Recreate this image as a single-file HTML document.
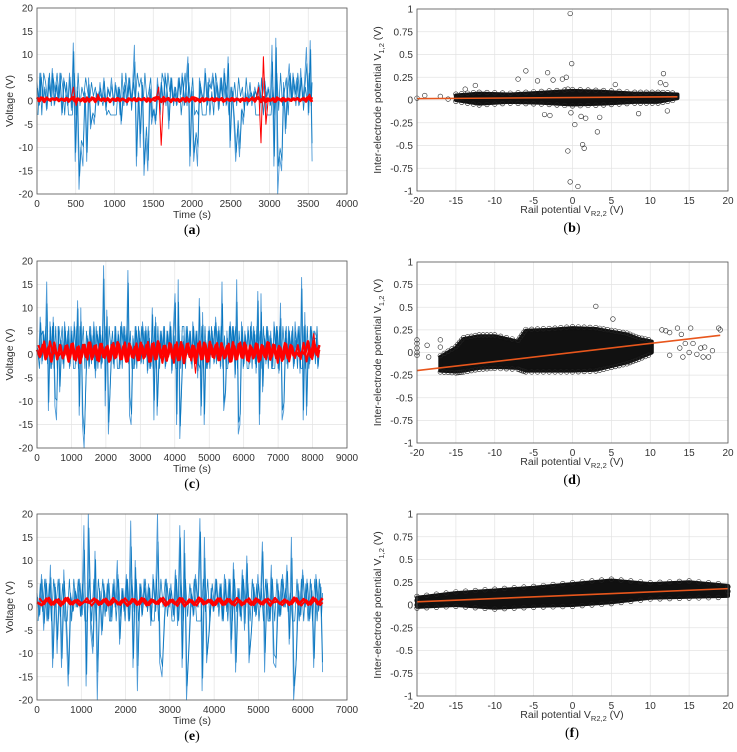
<!DOCTYPE html>
<html><head><meta charset="utf-8"><style>
body{margin:0;background:#fff;width:737px;height:752px;overflow:hidden}
svg{display:block;font-family:"Liberation Sans",sans-serif}
.cap{font-family:"Liberation Serif",serif;font-size:14px}
</style></head><body>
<svg id="fig" width="737" height="752" viewBox="0 0 737 752"></svg>
<script>
// ---- data ----
const tsA = [4,-1,6,0,3,-2,5,1,7,-1,4,0,6,-3,5,2,-1,6,-2,12.5,-13,3,-19,-10,-14,2,-13,5,-6,-3,-5,2,-1,4,0,5,-2,3,1,5,-1,4,0,3,-5,2,4,-1,5,0,3,12,-14,2,-10,4,-16,-8,-15,3,-5,-2,-5,5,0,4,-1,6,2,-6,5,0,3,-1,5,2,6,-1,4,9.5,-14,3,-13,-8,-14,5,2,0,7,-1,5,3,6,0,4,-2,5,1,7,-1,9.5,-10,3,-4,-13,-6,-12,-2,-5,2,-1,1,2,0,3,1,4,0,2,5,1,3,-1,12,-14,13.5,-20,-12,-15,4,-7,3,8,0,6,2,5,-1,7,0,4,11.5,-3,13,-13];
const tsAEnd = 3550;
const redA = [0.8,0,0.6,-0.2,0.7,0.2,0.5,0.3,0.6,0,0.5,0.1,0.6,-0.1,0.5,3,-1,0.5,0,0.6,-0.1,0.5,0.2,0.6,-0.3,1.5,0.2,0.5,0,0.6,-0.2,0.5,0.1,0.6,0,0.5,0.2,-0.3,0.5,0.1,0.6,0,0.5,0.2,0.6,-0.1,0.5,0.2,0.6,0.8,3,-9.5,1,0.2,0.6,-0.2,0.5,0.1,0.4,0,0.6,-0.1,0.5,0.2,0.6,0,0.4,-0.2,0.6,0.1,0.5,0.2,0.6,0,0.5,0.2,0.6,0,0.5,0.1,0.6,0,0.5,0.2,0.4,0.1,0.6,0,0.5,0.2,0.6,3,-9,9.5,-5,0.5,0.1,0.6,-0.1,0.5,0.2,0.6,0,0.5,0.1,0.5,0.2,0.6,0,0.5,0.2,0.7,1.5,-0.2];
const tsC = [2,-1,8,-2,5,0,15.5,-12,7,-3,8,-11,-14,6,-8,3,-2,7,0,5,-3,6,1,7,-2,11.5,-13,10,-15,-20,-7,4,-3,6,0,7,-5,5,1,6,-2,19,-11,9.5,-17,-8,3,-2,6,0,5,-3,7,2,6,-1,18,-13,-15,4,-3,6,0,5,-2,7,1,6,-4,5,-3,10,-14,8,-13,-2,5,0,6,-3,5,1,7,-4,6,13,-15,16,-18,-7,4,-2,6,0,5,-2,7,1,5,-5,12,-13,9,-15,3,-3,6,0,5,-2,8,1,6,-3,15.5,-12,-9,5,-2,7,0,6,-5,16,-17,-15,7,-3,5,1,6,-2,7,0,5,-4,13.5,-15,13,-8,4,-2,6,0,5,-3,7,1,6,-4,11,-14,-12,5,-2,6,0,5,-3,7,2,6,-4,16.5,-14,9,-13,3,-2,6,0,5,4,-3,1];
const tsCEnd = 8200;
const redC = [1,-0.5,2,-1,1.5,-1.5,2.5,-1,2,-0.8,1.8,-1.5,2.2,-1,1.5,-1.8,2,-0.5,2.5,-1,1.8,-1.2,2.2,-0.5,1.5,-1.5,2,-0.8,2.6,-1,1.8,-1.5,2.3,-0.5,1.6,-1.2,2.5,-0.8,2,-1.5,2.2,-1,2.8,-0.6,1.8,-1.3,2.4,-0.8,2,-1.2,2.6,-1.8,2.2,-0.5,1.9,-4,2.3,-1,2.5,-1.5,2.7,-0.5,2,-1.2,2.4,-0.8,1.8,-1.5,2.6,-1,2.2,-0.6,2.5,-1.2,1.9,-0.8,2.3,-1.5,2,-0.5,2.6,-1.1,2.1,-0.7,1.8,-1.3,2.4,-0.8,2,-0.2,0.5,-0.3,0.6,0,3,-0.5,4.5,0,2];
const tsE = [3,-2,7,-5,6,-3,9,-13,5,-10,6,-13,8,-4,-17,3,-1,4,0,6,-2,17.5,-17,20,-5,-10,12,-20,4,-6,5,-1,6,-3,5,0,10,-8,4,-1,7,-3,18.5,-13,10,-18,5,-2,6,0,5,-4,7,-1,20,-12,-15,-3,6,0,5,-2,8,-4,17.5,-13,16.5,-20,-9,4,-2,7,0,19,-18,15,-12,-6,4,-1,6,0,5,-3,7,-1,6,-10,9.5,-14,4,-2,8,-5,11,-12,-6,5,-2,7,0,14,-14,6,-3,9,-12,-13,5,-2,7,0,9,-8,15,-20,-13,5,-2,8,0,6,-3,5,-13,7,-1,5,-14];
const tsEEnd = 6450;
const redE = [1,0.4,1.8,0.5,1.5,0.3,1.9,0.6,1.4,0.4,1.2,0.9,1.8,0.5,1.6,0.4,1.9,0.6,1.5,0.3,1.7,0.5,1.9,0.4,1.6,0.7,1.8,0.3,1.5,0.6,1.9,0.2,1.6,0.5,2,0.6,1.5,0.4,1.8,0.5,1.7,0.6,1.9,0.4,1.5,0.5,1.8,0.6,1.6,0.3,1.9,0.7,1.6,0.5,2,0.6,1.7,0.5,2,0.6,1.9];
// scatter bands: x, upper, lower
const bandBX = [-15,-12,-8,-4,0,4,8,11,13.5];
const bandBUp = [0.05,0.07,0.06,0.08,0.1,0.09,0.07,0.07,0.06];
const bandBLo = [0,-0.04,-0.02,-0.03,-0.05,-0.04,-0.02,-0.02,0.02];
const outBX = [-20,-19,-17,-16,-13.8,-12.5,-7,-6,-4.5,-3.2,-2.5,-1.3,-0.8,-0.3,-0.1,-0.3,-0.6,-0.2,0.7,1.3,1.5,1.7,3.2,3.5,0.3,-3.6,-2.9,1.1,5.5,8.5,11.3,11.7,12,12.2,-0.6];
const outBY = [0.02,0.05,0.04,0.01,0.12,0.16,0.23,0.32,0.21,0.3,0.22,0.23,0.25,0.95,0.4,-0.9,-0.56,-0.14,-0.95,-0.49,-0.53,-0.2,-0.35,-0.19,-0.27,-0.16,-0.17,-0.18,0.17,-0.15,0.19,0.29,0.17,-0.12,0.12];
const fitB = [-20,0.015,13.5,0.035];
const bandDX = [-17,-15,-14,-12,-10,-7,-6,-3,0,3,5,7,8.5,10.2];
const bandDUp = [-0.05,0.05,0.15,0.18,0.18,0.12,0.24,0.25,0.27,0.26,0.23,0.2,0.15,0.12];
const bandDLo = [-0.2,-0.21,-0.2,-0.17,-0.16,-0.17,-0.2,-0.2,-0.2,-0.19,-0.15,-0.11,-0.06,0.0];
const outDX = [-20,-20,-20,-20,-20,-18.7,-17,-17,-18.5,12,11.5,12.5,13.5,14,13.8,14.5,15,15.5,16,16.5,17,17.5,18,18.8,19,3,5.2,14.2,15.2,12.5,16.8];
const outDY = [0.14,0.1,0.05,0.0,-0.03,0.08,0.14,0.06,-0.05,0.24,0.25,0.22,0.27,0.2,0.05,0.1,0.0,0.1,-0.02,0.05,0.06,-0.05,0.02,0.27,0.25,0.51,0.37,-0.05,0.27,-0.03,-0.05];
const fitD = [-20,-0.2,19,0.19];
const bandFX = [-20,-15,-10,-5,0,5,10,15,20];
const bandFUp = [0.08,0.13,0.16,0.19,0.23,0.27,0.23,0.25,0.21];
const bandFLo = [-0.02,0.0,-0.03,-0.01,0.0,0.03,0.08,0.09,0.1];
const fitF = [-20,0.035,20,0.18];
const tTicksA = [0,500,1000,1500,2000,2500,3000,3500,4000];
const tTicksC = [0,1000,2000,3000,4000,5000,6000,7000,8000,9000];
const tTicksE = [0,1000,2000,3000,4000,5000,6000,7000];
const vTicks = [-20,-15,-10,-5,0,5,10,15,20];
const rTicks = [-20,-15,-10,-5,0,5,10,15,20];
const pTicks = [-1,-0.75,-0.5,-0.25,0,0.25,0.5,0.75,1];

const NS='http://www.w3.org/2000/svg';
const fig=document.getElementById('fig');
function mk(tag,attrs,parent,text){const e=document.createElementNS(NS,tag);for(const k in attrs)e.setAttribute(k,attrs[k]);if(text!==undefined)e.textContent=text;(parent||fig).appendChild(e);return e;}
function axes(id,x0,x1,y0,y1,xmin,xmax,ymin,ymax,xt,yt){
  const g=mk('g',{});
  
  
  const sx=v=>x0+(v-xmin)/(xmax-xmin)*(x1-x0);
  const sy=v=>y1-(v-ymin)/(ymax-ymin)*(y1-y0);
  mk('rect',{x:x0,y:y0,width:x1-x0,height:y1-y0,fill:'#fff'},g);
  xt.forEach(v=>{mk('line',{x1:sx(v),x2:sx(v),y1:y0,y2:y1,stroke:'#e3e3e3','stroke-width':0.7},g);
    const t=mk('text',{x:sx(v),y:y1+13,'font-size':10,'text-anchor':'middle',fill:'#333'},g,String(v));
    
    });
  yt.forEach(v=>{mk('line',{x1:x0,x2:x1,y1:sy(v),y2:sy(v),stroke:'#e3e3e3','stroke-width':0.7},g);
    const t=mk('text',{x:x0-4,y:sy(v)+3.5,'font-size':10,'text-anchor':'end',fill:'#333'},g,String(v));
    
    });
  const plot=mk('g',{},g);
  const frame=()=>mk('rect',{x:x0,y:y0,width:x1-x0,height:y1-y0,fill:'none',stroke:'#555','stroke-width':0.8},g);
  return {sx,sy,g:plot,frame};
}
function series(ax,vals,tEnd,color,w,name,op,off){
  off=off||0;
  const n=vals.length-1;
  const pts=vals.map((v,i)=>ax.sx(Math.min(n,i+off)/n*tEnd).toFixed(1)+','+ax.sy(v).toFixed(1)).join(' ');
  const p=mk('polyline',{points:pts,fill:'none',stroke:color,'stroke-width':w,'stroke-linejoin':'round','opacity':op||1},ax.g);
  
  
}
function tsPanel(id,y0,y1,vals,tEnd,red,xt,xmax,bandLo,bandHi,cap){
  const ax=axes(id,37,347,y0,y1,0,xmax,-20,20,xt,vTicks);
  series(ax,vals,tEnd,'#4d9ad6',0.9,'voltage-series',1);
  series(ax,vals.map(v=>Math.max(-3,Math.min(6,v))).reverse(),tEnd,'#0072BD',0.8,'voltage-series-dense',0.9,0.5);
  series(ax,vals.map((v,i)=>i%3==0?v*0.7:v*0.85),tEnd,'#0072BD',0.8,'voltage-series-dark',0.9,0.25);
  series(ax,red.map(v=>Math.max(bandLo,Math.min(bandHi,v))),tEnd,'#ff0000',2.6,'mean-band',1);
  series(ax,red.map(v=>Math.max(bandLo,Math.min(bandHi,v))).reverse(),tEnd,'#ff0000',2.0,'mean-band-2',1,0.5);
  series(ax,red,tEnd,'#ff0000',1,'mean-series',1);
  ax.frame();
  let t=mk('text',{x:192,y:y1+24,'font-size':10.5,'text-anchor':'middle',fill:'#333'},fig,'Time (s)');
  
  t=mk('text',{x:0,y:0,'font-size':10.5,'text-anchor':'middle',fill:'#333',transform:`translate(13,${(y0+y1)/2}) rotate(-90)`},fig,'Voltage (V)');
  
  t=mk('text',{x:192,y:y1+40,'text-anchor':'middle',class:'cap'},fig,'');
  t.innerHTML='(<tspan font-weight="bold">'+cap+'</tspan>)';
  
}
function scPanel(id,y0,y1,bx,bu,bl,ox,oy,fit,cap){
  const ax=axes(id,417,728,y0,y1,-20,20,-1,1,rTicks,pTicks);
  const pts=bx.map((x,i)=>ax.sx(x)+','+ax.sy(bu[i])).concat(bx.map((x,i)=>ax.sx(x)+','+ax.sy(bl[i])).reverse()).join(' ');
  const b=mk('polygon',{points:pts,fill:'#111',stroke:'#111','stroke-width':4,'stroke-linejoin':'round'},ax.g);
  
  for(let i=0;i<bx.length-1;i++){for(let k=0;k<4;k++){const f=k/4;
    const x=bx[i]+(bx[i+1]-bx[i])*f;
    [bu[i]+(bu[i+1]-bu[i])*f+0.015,bl[i]+(bl[i+1]-bl[i])*f-0.015].forEach(y=>{
      const c=mk('circle',{cx:ax.sx(x),cy:ax.sy(y),r:2.3,fill:'none',stroke:'#222','stroke-width':0.6},ax.g);
      });}}
  ox.forEach((x,i)=>{const c=mk('circle',{cx:ax.sx(x),cy:ax.sy(oy[i]),r:2.3,fill:'none',stroke:'#222','stroke-width':0.6},ax.g);
    });
  const l=mk('line',{x1:ax.sx(fit[0]),y1:ax.sy(fit[1]),x2:ax.sx(fit[2]),y2:ax.sy(fit[3]),stroke:'#e8561c','stroke-width':1.6},ax.g);
  
  ax.frame();
  let t=mk('text',{x:572,y:y1+22,'font-size':10.5,'text-anchor':'middle',fill:'#333'},fig,'');
  t.innerHTML='Rail potential V<tspan font-size="7.5" dy="3">R2,2</tspan><tspan dy="-3"> (V)</tspan>';
  
  t=mk('text',{x:0,y:0,'font-size':10.5,'text-anchor':'middle',fill:'#333',transform:`translate(381,${(y0+y1)/2}) rotate(-90)`},fig,'');
  t.innerHTML='Inter-electrode potential V<tspan font-size="7.5" dy="3">1,2</tspan><tspan dy="-3"> (V)</tspan>';
  
  t=mk('text',{x:572,y:y1+41,'text-anchor':'middle',class:'cap'},fig,'');
  t.innerHTML='(<tspan font-weight="bold">'+cap+'</tspan>)';
  
}
tsPanel('panel-a',8,194,tsA,tsAEnd,redA,tTicksA,4000,-0.2,0.8,'a');
scPanel('panel-b',9,191,bandBX,bandBUp,bandBLo,outBX,outBY,fitB,'b');
tsPanel('panel-c',261,448,tsC,tsCEnd,redC,tTicksC,9000,-1.8,2.8,'c');
scPanel('panel-d',262,443,bandDX,bandDUp,bandDLo,outDX,outDY,fitD,'d');
tsPanel('panel-e',514,700,tsE,tsEEnd,redE,tTicksE,7000,0.2,2,'e');
scPanel('panel-f',514,696,bandFX,bandFUp,bandFLo,[-20,-20,20,20],[0.05,0.0,0.15,0.2],fitF,'f');
</script>
</body></html>
